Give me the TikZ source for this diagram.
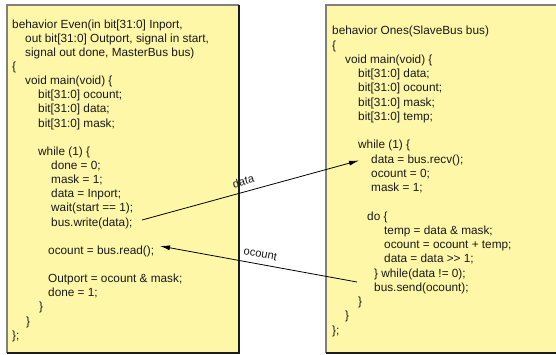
\documentclass[tikz,border=0pt]{standalone}
\usepackage{fontspec}
\setmainfont[Ligatures=NoCommon]{Liberation Sans}
\usetikzlibrary{arrows.meta}
\definecolor{boxfill}{RGB}{255,247,168}
\definecolor{edgelight}{RGB}{128,128,128}
\definecolor{edgedark}{RGB}{28,28,28}
\definecolor{codetext}{RGB}{25,25,25}
\tikzset{
  codeline/.style={anchor=base west, inner sep=0pt, text=codetext, font=\fontsize{11.8}{14}\selectfont},
  linklabel/.style={sloped, text=codetext, font=\fontsize{11.2}{13}\selectfont, inner sep=1pt},
  link/.style={draw=black, line width=0.8pt, -{Latex[length=10pt,width=5pt]}},
}
\begin{document}
\begin{tikzpicture}[x=1pt,y=-1pt]
\useasboundingbox (0,0) rectangle (556,354);
% left box
\fill[boxfill] (7,5) rectangle (239,353);
\draw[edgelight, line width=1.2pt] (7,353) -- (7,5) -- (239,5);
\draw[edgedark, line width=1.4pt] (239,5) -- (239,353) -- (7,353);
% right box
\fill[boxfill] (326,5) rectangle (557,353);
\draw[edgelight, line width=1.2pt] (326,353) -- (326,5) -- (557,5);
\draw[edgedark, line width=1.4pt] (326,353) -- (557,353);

% left code
\node[codeline] (L1)  at (12,28)    {behavior Even(in bit[31:0] Inport,};
\node[codeline] (L2)  at (25,42.1)  {out bit[31:0] Outport, signal in start,};
\node[codeline] (L3)  at (25,56.3)  {signal out done, MasterBus bus)};
\node[codeline] (L4)  at (12,70.4)  {\{};
\node[codeline] (L5)  at (25,84.6)  {void main(void) \{};
\node[codeline] (L6)  at (38,98.7)  {bit[31:0] ocount;};
\node[codeline] (L7)  at (38,112.8) {bit[31:0] data;};
\node[codeline] (L8)  at (38,127)   {bit[31:0] mask;};
\node[codeline] (L10) at (38,155.3) {while (1) \{};
\node[codeline] (L11) at (51,169.4) {done = 0;};
\node[codeline] (L12) at (51,183.5) {mask = 1;};
\node[codeline] (L13) at (51,197.7) {data = Inport;};
\node[codeline] (L14) at (51,211.8) {wait(start == 1);};
\node[codeline] (L15) at (51,226)   {bus.write(data);};
\node[codeline] (L17) at (48,254.2) {ocount = bus.read();};
\node[codeline] (L19) at (48,282.5) {Outport = ocount \& mask;};
\node[codeline] (L20) at (48,296.7) {done = 1;};
\node[codeline] (L21) at (39,310.8) {\}};
\node[codeline] (L22) at (26,325)   {\}};
\node[codeline] (L23) at (12,339.1) {\};};

% right code
\node[codeline] (R1)  at (332,34.7)  {behavior Ones(SlaveBus bus)};
\node[codeline] (R2)  at (332,49)    {\{};
\node[codeline] (R3)  at (345,63.2)  {void main(void) \{};
\node[codeline] (R4)  at (358,77.5)  {bit[31:0] data;};
\node[codeline] (R5)  at (358,91.7)  {bit[31:0] ocount;};
\node[codeline] (R6)  at (358,106)   {bit[31:0] mask;};
\node[codeline] (R7)  at (358,120.2) {bit[31:0] temp;};
\node[codeline] (R9)  at (358,148.7) {while (1) \{};
\node[codeline] (R10) at (371,163)   {data = bus.recv();};
\node[codeline] (R11) at (371,177.2) {ocount = 0;};
\node[codeline] (R12) at (371,191.5) {mask = 1;};
\node[codeline] (R14) at (367,220)   {do \{};
\node[codeline] (R15) at (384,234.2) {temp = data \& mask;};
\node[codeline] (R16) at (384,248.5) {ocount = ocount + temp;};
\node[codeline] (R17) at (384,262.7) {data = data >{}> 1;};
\node[codeline] (R18) at (374,277)   {\} while(data != 0);};
\node[codeline] (R19) at (374,291.2) {bus.send(ocount);};
\node[codeline] (R20) at (358,305.5) {\}};
\node[codeline] (R21) at (345,319.7) {\}};
\node[codeline] (R22) at (332,334)   {\};};

% connector ends
\coordinate (writeout) at (142,220);
\coordinate (recvin)   at (359,160.5);
\coordinate (readin)   at (160,246);
\coordinate (sendout)  at (357,282);

\draw[link] (writeout) -- node[linklabel, above=5pt, pos=0.48] {data} (recvin);
\draw[link, {Latex[length=10pt,width=5pt]}-] (readin) -- node[linklabel, above=5pt, pos=0.5] {ocount} (sendout);
\end{tikzpicture}
\end{document}
